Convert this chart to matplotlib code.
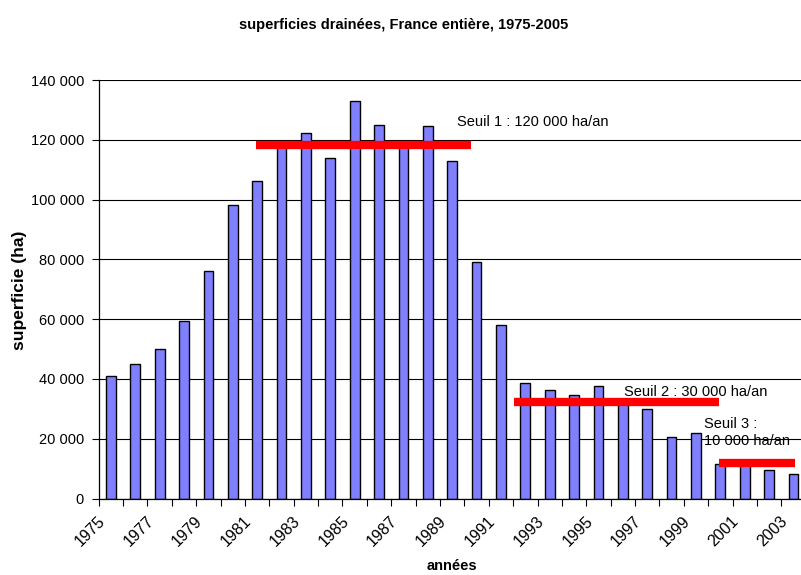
import numpy as np
import matplotlib
matplotlib.use("Agg")
import matplotlib.pyplot as plt
import matplotlib.transforms as mtransforms
from matplotlib.ticker import FuncFormatter, FixedLocator

plt.rcParams['font.family'] = ['Liberation Sans', 'DejaVu Sans']

years = list(range(1975, 2004))
surfaces = [41000, 45000, 50000, 59400, 76000, 98200, 106300, 118500, 122400,
            114000, 133000, 125000, 118500, 124700, 112900, 79000, 58000,
            38700, 36300, 34600, 37600, 32000, 30000, 20700, 21900, 11400,
            11500, 9600, 8300]

title = "superficies drainées, France entière, 1975-2005"
xlabel = "années"
ylabel = "superficie (ha)"

# thresholds: (label, value, first year, last year)
seuil_labels = ["Seuil 1 : 120 000 ha/an", "Seuil 2 : 30 000 ha/an", "Seuil 3 :\n10 000 ha/an"]
seuil_values = [118200, 32200, 12000]
seuil_start = [1980.95, 1991.52, 1999.93]
seuil_end = [1989.79, 1999.96, 2003.08]

fig = plt.figure(figsize=(8.01, 5.75), dpi=100)
ax = fig.add_axes([98.7/801, 76.5/575, 707/801, 418.5/575])

x = np.arange(len(years))
ax.bar(x, surfaces, width=0.40, color='#8080FF', edgecolor='black', linewidth=1.0, zorder=2)

ax.set_xlim(-0.5, len(years) - 0.5)
ax.set_ylim(0, 140000)
ax.set_yticks(np.arange(0, 140001, 20000))
ax.yaxis.set_major_formatter(FuncFormatter(lambda v, p: f"{int(v):,}".replace(",", " ")))
ax.grid(axis='y', color='black', linewidth=0.8, zorder=1)
ax.set_axisbelow(True)

# labels every two years at category centers, ticks at category boundaries
lab_idx = [i for i, y in enumerate(years) if (y - 1975) % 2 == 0]
ax.set_xticks(lab_idx)
ax.set_xticklabels([str(years[i]) for i in lab_idx], rotation=45, ha='right', fontsize=11.5)
ax.xaxis.set_minor_locator(FixedLocator(np.arange(-0.5, len(years), 1.0)))
ax.tick_params(axis='x', which='major', length=0, pad=11)
ax.tick_params(axis='x', which='minor', length=5, width=0.8, color='black')
ax.tick_params(axis='y', which='major', length=5, width=0.8, pad=5.5, labelsize=10.5)
shift = mtransforms.ScaledTranslation(-3/100, 0, fig.dpi_scale_trans)
for lbl in ax.get_xticklabels():
    lbl.set_transform(lbl.get_transform() + shift)

for s in ['top', 'right']:
    ax.spines[s].set_visible(False)
for s in ['left', 'bottom']:
    ax.spines[s].set_color('black')
    ax.spines[s].set_linewidth(0.9)

# thresholds
for lab, v, a, b in zip(seuil_labels, seuil_values, seuil_start, seuil_end):
    ax.plot([a - 1975, b - 1975], [v, v], color='#FF0000', linewidth=6, solid_capstyle='butt', zorder=3)

ax.text(14.18, 126000, seuil_labels[0], fontsize=10.5, va='center', ha='left', zorder=4)
ax.text(21.03, 35500, seuil_labels[1], fontsize=10.5, va='center', ha='left', zorder=4)
ax.text(24.31, 22000, seuil_labels[2], fontsize=10.5, va='center', ha='left', linespacing=1.3, zorder=4)

fig.text(452/801, 1 - 566/575, xlabel, fontsize=10.5, fontweight='bold', ha='center', va='center')
fig.text(20/801, 1 - 290/575, ylabel, fontsize=12.5, fontweight='bold', ha='center', va='center', rotation=90)

fig.text(404/801, 1 - 25/575, title, fontsize=10.5, fontweight='bold', ha='center', va='center')

fig.savefig("out.png", dpi=100)
